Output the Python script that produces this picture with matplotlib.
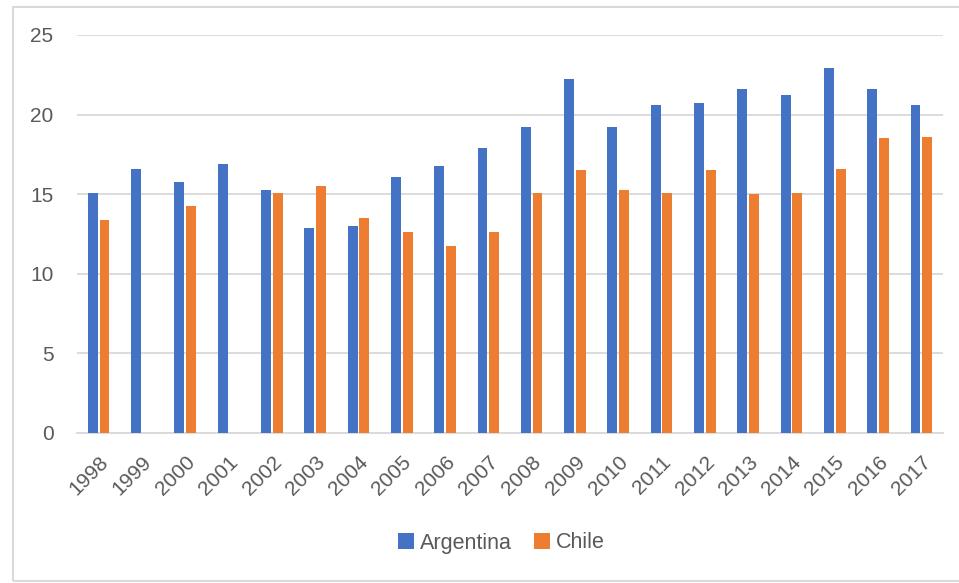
import numpy as np
import matplotlib
matplotlib.use("Agg")
from matplotlib import pyplot as plt, font_manager
from matplotlib.patches import Rectangle

years = [str(y) for y in range(1998, 2018)]
argentina = [15.1, 16.6, 15.75, 16.9, 15.25, 12.9, 13.0, 16.1, 16.75, 17.9,
             19.25, 22.25, 19.25, 20.6, 20.75, 21.6, 21.25, 22.9, 21.6, 20.6]
chile = [13.4, np.nan, 14.25, np.nan, 15.1, 15.5, 13.5, 12.6, 11.75, 12.6,
         15.1, 16.5, 15.25, 15.1, 16.5, 15.0, 15.1, 16.6, 18.5, 18.6]

names = {f.name for f in font_manager.fontManager.ttflist}
fam = "Liberation Sans Narrow" if "Liberation Sans Narrow" in names else "Liberation Sans"
plt.rcParams['font.family'] = [fam, 'DejaVu Sans']

grey_txt = "#595959"
grid_c = "#d9d9d9"

fig = plt.figure(figsize=(9.59, 5.83), dpi=100)
ax = fig.add_axes([77 / 959, 1 - 433 / 583, 866 / 959, 398 / 583])

x = np.arange(len(years))
w = 0.23
ax.bar(x - 0.135, argentina, width=w, color="#4472c4", label="Argentina", zorder=3)
ax.bar(x + 0.135, chile, width=w, color="#ed7d31", label="Chile", zorder=3)

ax.set_xlim(-0.5, len(years) - 0.5)
ax.set_ylim(0, 25)
ax.set_yticks(range(0, 26, 5))
ax.yaxis.grid(True, color=grid_c, linewidth=1.3, zorder=0)
for s in ["top", "right", "left"]:
    ax.spines[s].set_visible(False)
ax.spines["bottom"].set_color(grid_c)
ax.spines["bottom"].set_linewidth(1.3)
ax.tick_params(axis="both", length=0, colors=grey_txt, labelsize=15)
ax.tick_params(axis="y", pad=17)
ax.set_xticks(x)
ax.set_xticklabels(years, rotation=45, ha="right", rotation_mode="anchor")
ax.tick_params(axis="x", pad=14)

leg = ax.legend(loc="center", bbox_to_anchor=(0.49, -(543 - 433) / 398), ncol=2,
                frameon=False, fontsize=15.5, handlelength=0.75, handleheight=0.75,
                handletextpad=0.3, columnspacing=1.0)
for t in leg.get_texts():
    t.set_color(grey_txt)

border = Rectangle((13 / 959, 2 / 583), 1.0, 574 / 583, transform=fig.transFigure,
                   fill=False, edgecolor=grid_c, linewidth=1.5, clip_on=False)
fig.patches.append(border)

fig.savefig("out.png", dpi=100)
